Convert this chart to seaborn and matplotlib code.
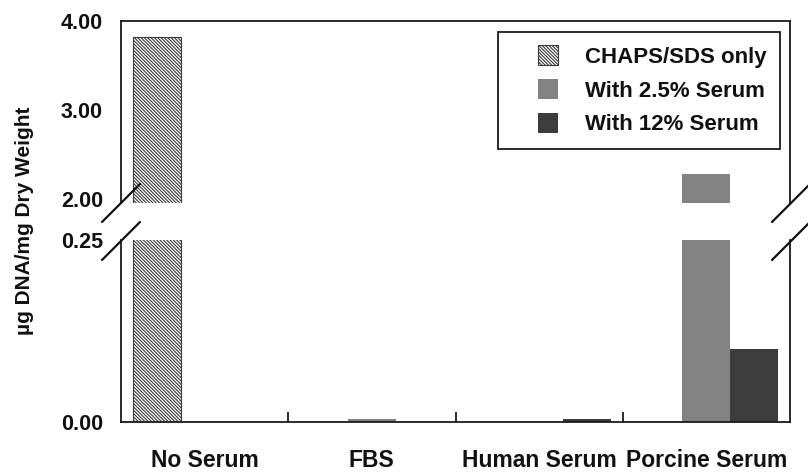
import numpy as np
import pandas as pd
import matplotlib
matplotlib.use("Agg")
import matplotlib.pyplot as plt
import seaborn as sns
from matplotlib.patches import Patch, Rectangle
from matplotlib.legend_handler import HandlerPatch
from matplotlib.lines import Line2D

# ---- data ----
categories = ["No Serum", "FBS", "Human Serum", "Porcine Serum"]
series = ["CHAPS/SDS only", "With 2.5% Serum", "With 12% Serum"]
chaps_sds_only = [3.82, 0.0, 0.0, 0.0]
with_2_5_serum = [0.0, 0.004, 0.0, 2.29]
with_12_serum = [0.0, 0.0, 0.004, 0.10]
top_ticks = [2.0, 3.0, 4.0]
top_tick_labels = ["2.00", "3.00", "4.00"]
bottom_ticks = [0.0, 0.25]
bottom_tick_labels = ["0.00", "0.25"]
y_label = "\u00b5g DNA/mg Dry Weight"

sns.set_theme(style="white")
plt.rcParams['font.family'] = ['Liberation Sans', 'DejaVu Sans']
plt.rcParams['font.weight'] = 'bold'
plt.rcParams['hatch.linewidth'] = 0.8

df = pd.DataFrame({
    "category": categories * 3,
    "series": np.repeat(series, len(categories)),
    "value": chaps_sds_only + with_2_5_serum + with_12_serum,
})
palette = {"CHAPS/SDS only": "white", "With 2.5% Serum": "#828282", "With 12% Serum": "#3c3c3c"}
hatch = "\\" * 10
hatch_edge = "#3a3a3a"
spine_c = "#1a1a1a"

W, H = 808, 472
fig = plt.figure(figsize=(W / 100, H / 100), dpi=100)


def rect(x0, y0, x1, y1):
    return [x0 / W, 1 - y1 / H, (x1 - x0) / W, (y1 - y0) / H]


ax_top = fig.add_axes(rect(121, 21, 790, 203))
ax_bot = fig.add_axes(rect(121, 240, 790, 422))

for ax in (ax_top, ax_bot):
    sns.barplot(data=df, x="category", y="value", hue="series", order=categories,
                hue_order=series, palette=palette, width=0.857, ax=ax,
                legend=False, errorbar=None, saturation=1)
    for i, cont in enumerate(ax.containers):
        for p in cont.patches:
            if i == 0:
                p.set_facecolor("white")
                p.set_edgecolor(hatch_edge)
                p.set_hatch(hatch)
                p.set_linewidth(0.8)
            else:
                p.set_linewidth(0)
    ax.set_xlim(-0.5, 3.5)
    ax.set_xlabel("")
    ax.set_ylabel("")
    for s in ax.spines.values():
        s.set_color(spine_c)
        s.set_linewidth(1.3)
    ax.tick_params(axis="y", direction="in", length=7, width=1.3, color=spine_c,
                   pad=13, labelsize=15.5, labelcolor="#111")

ax_top.set_ylim(1.96, 4.0)
ax_top.set_yticks(top_ticks)
ax_top.set_yticklabels(top_tick_labels)
ax_top.spines["bottom"].set_visible(False)
ax_top.set_xticks([])

ax_bot.set_ylim(0, 0.25)
ax_bot.set_yticks(bottom_ticks)
ax_bot.set_yticklabels(bottom_tick_labels)
ax_bot.spines["top"].set_visible(False)
ax_bot.set_xticks(range(len(categories)))
ax_bot.set_xticklabels(categories)
ax_bot.set_xticks([0.5, 1.5, 2.5], minor=True)
ax_bot.tick_params(axis="x", which="major", length=0, pad=19.5, labelsize=16.5, labelcolor="#111")
ax_bot.tick_params(axis="x", which="minor", direction="in", length=7, width=1.3,
                   color=spine_c, bottom=True)


# legend: square swatch placed at the right end of a wider handle slot
def square_at_right(legend, orig_handle, xdescent, ydescent, width, height, fontsize):
    sq = 20 * 72 / 100  # ~20 px square in points
    return Rectangle((-xdescent + width - sq, -ydescent + (height - sq) / 2), sq, sq)


handles = [
    Patch(facecolor="white", edgecolor=hatch_edge, hatch=hatch, linewidth=0.8, label=series[0]),
    Patch(facecolor=palette[series[1]], edgecolor="none", label=series[1]),
    Patch(facecolor=palette[series[2]], edgecolor="none", label=series[2]),
]
leg = ax_top.legend(handles=handles, loc="upper right",
                    bbox_to_anchor=(780 / W, 1 - 32 / H), bbox_transform=fig.transFigure,
                    borderaxespad=0, frameon=True, fancybox=False, framealpha=1,
                    prop={"size": 16, "weight": "bold"}, handlelength=2.1, handleheight=1.0,
                    handletextpad=1.2, labelspacing=0.5, borderpad=0.6,
                    handler_map={Patch: HandlerPatch(patch_func=square_at_right)})
leg.get_frame().set_edgecolor(spine_c)
leg.get_frame().set_linewidth(1.3)
for t in leg.get_texts():
    t.set_color("#111")

# y label
fig.text(25 / W, 1 - 221 / H, y_label, rotation=90, ha="center", va="center",
         fontsize=15, fontweight="bold", color="#111")

# axis break marks
for (x0, y0, x1, y1) in [(102, 222, 140, 184), (102, 260, 140, 222),
                         (772, 222, 810, 184), (772, 260, 810, 222)]:
    fig.add_artist(Line2D([x0 / W, x1 / W], [1 - y0 / H, 1 - y1 / H],
                          transform=fig.transFigure, color="#111", lw=1.6))

fig.savefig("out.png", dpi=100)
